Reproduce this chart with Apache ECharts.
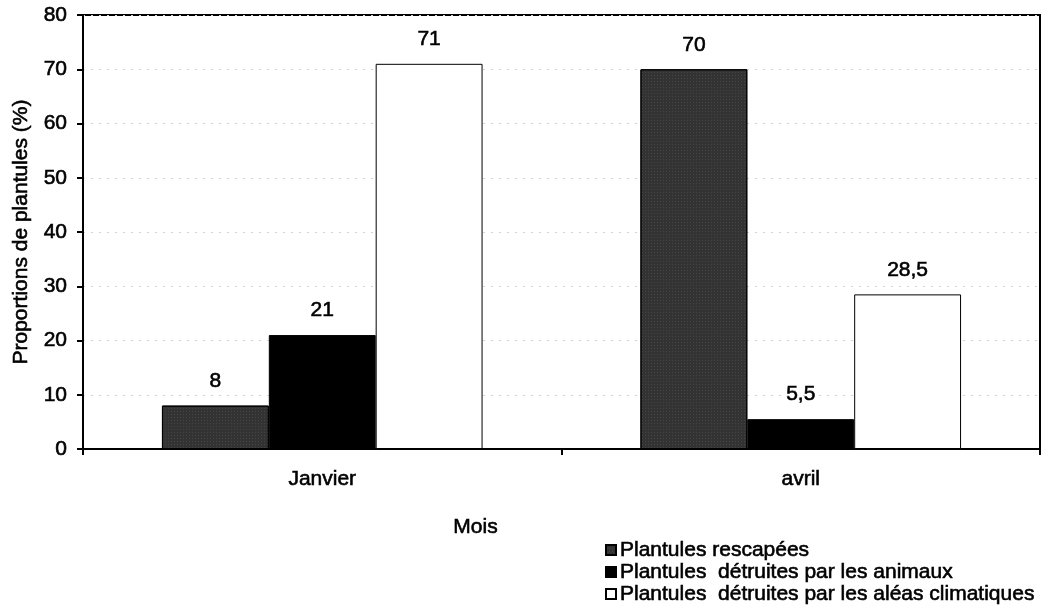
<!DOCTYPE html>
<html>
<head>
<meta charset="utf-8">
<script src="https://cdn.jsdelivr.net/npm/echarts@6/dist/echarts.min.js"></script>
<style>html,body{margin:0;padding:0;background:#fff;}#c{width:1051px;height:615px;}</style>
</head>
<body>
<div id="c"></div>
<script>
const categories = ['Janvier', 'avril'];
const seriesNames = ['Plantules rescapées', 'Plantules  détruites par les animaux', 'Plantules  détruites par les aléas climatiques'];
const rescapees = [8, 70];
const animaux = [21, 5.5];
const aleas = [71, 28.5];
const yTicks = [0, 10, 20, 30, 40, 50, 60, 70, 80];

const FONT = '"Liberation Sans", Arial, sans-serif';
const FS = 21;
const thick = {textBorderColor: '#000', textBorderWidth: 0.6};
const chart = echarts.init(document.getElementById('c'), null, {renderer: 'canvas'});
const labelCfg = Object.assign({
  show: true, position: 'top', distance: 14,
  color: '#000', fontFamily: FONT, fontSize: FS,
  formatter: p => String(p.value).replace('.', ',')
}, thick);
chart.setOption({
  animation: false,
  backgroundColor: '#fff',
  textStyle: {fontFamily: FONT},
  grid: {left: 83, right: 11, top: 15, bottom: 166, show: true, borderColor: '#000', borderWidth: 2},
  legend: {
    orient: 'vertical', left: 605, top: 539, itemGap: 0,
    itemWidth: 10, itemHeight: 10, icon: 'rect', padding: 0,
    textStyle: Object.assign({fontFamily: FONT, fontSize: FS, lineHeight: 22, color: '#000', padding: [0, 0, 0, -1]}, thick),
    data: seriesNames
  },
  xAxis: {
    type: 'category', data: categories,
    name: 'Mois', nameLocation: 'middle', nameGap: 68,
    nameTextStyle: Object.assign({fontFamily: FONT, fontSize: FS, color: '#000', padding: [0, 172, 0, 0]}, thick),
    axisLine: {lineStyle: {color: '#000', width: 2}},
    axisTick: {show: true, length: 6, lineStyle: {color: '#000', width: 2}},
    axisLabel: Object.assign({fontFamily: FONT, fontSize: FS, color: '#000', margin: 20}, thick),
    splitLine: {show: false}
  },
  yAxis: {
    type: 'value', min: yTicks[0], max: yTicks[yTicks.length - 1], interval: 10,
    name: 'Proportions de plantules (%)', nameLocation: 'middle', nameGap: 51,
    nameTextStyle: Object.assign({fontFamily: FONT, fontSize: FS, color: '#000'}, thick),
    axisLine: {show: true, lineStyle: {color: '#000', width: 2}},
    axisTick: {show: true, length: 6, inside: false, lineStyle: {color: '#000', width: 2}},
    axisLabel: Object.assign({fontFamily: FONT, fontSize: FS, color: '#000', margin: 16}, thick),
    splitLine: {show: true, lineStyle: {color: '#d4d4d4', type: [2, 6], width: 1}}
  },
  series: [
    {
      name: seriesNames[0], type: 'bar', data: rescapees,
      barGap: '0%', barCategoryGap: '33%',
      itemStyle: {
        color: '#333', borderColor: '#000', borderWidth: 1,
        decal: {symbol: 'rect', symbolSize: 0.5, dashArrayX: [1, 2], dashArrayY: [1, 2], color: 'rgba(255,255,255,0.35)', rotation: 0}
      },
      label: labelCfg
    },
    {
      name: seriesNames[1], type: 'bar', data: animaux,
      itemStyle: {color: '#000', borderColor: '#000', borderWidth: 1},
      label: labelCfg
    },
    {
      name: seriesNames[2], type: 'bar', data: aleas,
      itemStyle: {color: '#fff', borderColor: '#000', borderWidth: 1},
      label: labelCfg
    }
  ]
});
</script>
</body>
</html>
